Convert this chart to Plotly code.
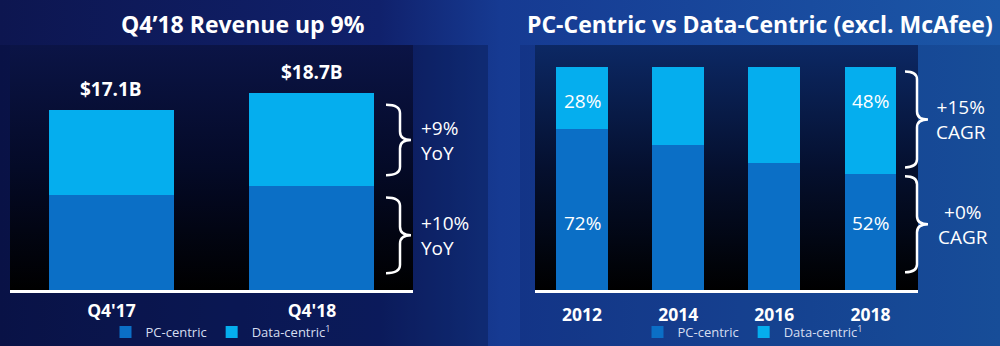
import urllib.parse
import plotly.graph_objects as go

# ---------------- data ----------------
quarters = ["Q4'17", "Q4'18"]
q_pc = [9.0, 9.9]          # $B PC-centric
q_dc = [8.1, 8.8]          # $B Data-centric
q_growth_labels = ["+10%<br>YoY", "+9%<br>YoY"]   # PC, Data

years = ["2012", "2014", "2016", "2018"]
y_pc = [72, 65, 57, 52]    # % share PC-centric
y_dc = [28, 35, 43, 48]    # % share Data-centric
y_label_years = ["2012", "2018"]
y_cagr_labels = ["+0%<br>CAGR", "+15%<br>CAGR"]   # PC, Data

series_names = ["PC-centric", "Data-centric<sup>1</sup>"]

# ---------------- style ----------------
W, H = 1000, 346
PC_COL = "#0b6fc6"
DC_COL = "#05aeee"
FONT = "Open Sans"
WHITE = "#ffffff"

q_total = [round(a + b, 1) for a, b in zip(q_pc, q_dc)]

# background (decorative) as an SVG image
svg = f"""<svg xmlns='http://www.w3.org/2000/svg' width='{W}' height='{H}' viewBox='0 0 {W} {H}' preserveAspectRatio='none'>
<defs>
<linearGradient id='bg' x1='0' y1='0' x2='1' y2='0'>
<stop offset='0' stop-color='#0d1650'/><stop offset='0.38' stop-color='#10216c'/>
<stop offset='0.5' stop-color='#163a92'/><stop offset='1' stop-color='#1b57a7'/></linearGradient>
<linearGradient id='p1' x1='0' y1='0' x2='0' y2='1'>
<stop offset='0' stop-color='#0b1446'/><stop offset='0.5' stop-color='#040a27'/><stop offset='1' stop-color='#000000'/></linearGradient>
<linearGradient id='p2' x1='0' y1='0' x2='0' y2='1'>
<stop offset='0' stop-color='#0c2864'/><stop offset='0.5' stop-color='#05102f'/><stop offset='1' stop-color='#000000'/></linearGradient>
</defs>
<rect x='0' y='0' width='{W}' height='{H}' fill='url(#bg)'/>
<rect x='0' y='45' width='488' height='{H-45}' fill='#000a30' fill-opacity='0.28'/>
<rect x='520' y='45' width='480' height='{H-45}' fill='#000a30' fill-opacity='0.12'/>
<rect x='10' y='45' width='403' height='245' fill='url(#p1)'/>
<rect x='535' y='45' width='383' height='245' fill='url(#p2)'/>
</svg>"""
bg_src = "data:image/svg+xml;charset=utf-8," + urllib.parse.quote(svg)

fig = go.Figure()

# left panel bars
for vals, name, col in [(q_pc, series_names[0], PC_COL), (q_dc, series_names[1], DC_COL)]:
    fig.add_trace(go.Bar(x=quarters, y=vals, name=name, marker=dict(color=col, line=dict(width=0)),
                         width=0.623, xaxis="x", yaxis="y", legend="legend", hoverinfo="skip"))
# right panel bars
for vals, name, col in [(y_pc, series_names[0], PC_COL), (y_dc, series_names[1], DC_COL)]:
    fig.add_trace(go.Bar(x=years, y=vals, name=name, marker=dict(color=col, line=dict(width=0)),
                         width=0.54, xaxis="x2", yaxis="y2", legend="legend2", hoverinfo="skip"))

annotations = []
# titles
annotations.append(dict(text="Q4’18 Revenue up 9%", x=0.243, y=1 - 24 / H, xref="paper", yref="paper",
                        xanchor="center", yanchor="middle", showarrow=False,
                        font=dict(family=FONT, size=23, color=WHITE, weight="bold")))
annotations.append(dict(text="PC-Centric vs Data-Centric (excl. McAfee)", x=0.760, y=1 - 24 / H,
                        xref="paper", yref="paper", xanchor="center", yanchor="middle", showarrow=False,
                        font=dict(family=FONT, size=23, color=WHITE, weight="bold")))
# totals above left bars
for i, t in enumerate(q_total):
    annotations.append(dict(text=f"${t:.1f}B", x=i, y=t, xref="x", yref="y", yanchor="bottom", yshift=6,
                            xanchor="center", showarrow=False,
                            font=dict(family=FONT, size=19, color=WHITE, weight="bold")))
# share labels in right bars
for yr in y_label_years:
    i = years.index(yr)
    annotations.append(dict(text=f"{y_dc[i]}%", x=i, y=85, xref="x2", yref="y2", showarrow=False,
                            xanchor="center", yanchor="middle",
                            font=dict(family=FONT, size=19, color=WHITE)))
    annotations.append(dict(text=f"{y_pc[i]}%", x=i, y=30, xref="x2", yref="y2", showarrow=False,
                            xanchor="center", yanchor="middle",
                            font=dict(family=FONT, size=19, color=WHITE)))

shapes = []


def brace(x0, xs, xt, ylo, yhi, r, yref):
    ym = (ylo + yhi) / 2
    p = (f"M{x0},{yhi} Q{xs},{yhi} {xs},{yhi - r} L{xs},{ym + r} Q{xs},{ym} {xt},{ym} "
         f"Q{xs},{ym} {xs},{ym - r} L{xs},{ylo + r} Q{xs},{ylo} {x0},{ylo}")
    return dict(type="path", path=p, xref="paper", yref=yref, line=dict(color=WHITE, width=2.5),
                fillcolor="rgba(0,0,0,0)")


# left braces (latest quarter)
lo_pc, hi_pc = 1.6, q_pc[-1] - 1.1
lo_dc, hi_dc = q_pc[-1] + 1.0, q_total[-1] - 1.1
shapes.append(brace(0.386, 0.400, 0.411, lo_dc, hi_dc, 0.8, "y"))
shapes.append(brace(0.386, 0.400, 0.411, lo_pc, hi_pc, 0.8, "y"))
annotations.append(dict(text=q_growth_labels[1], x=0.419, y=(lo_dc + hi_dc) / 2, xref="paper", yref="y",
                        xanchor="left", yanchor="middle", align="left", showarrow=False,
                        font=dict(family=FONT, size=19, color=WHITE)))
annotations.append(dict(text=q_growth_labels[0], x=0.419, y=(lo_pc + hi_pc) / 2, xref="paper", yref="y",
                        xanchor="left", yanchor="middle", align="left", showarrow=False,
                        font=dict(family=FONT, size=19, color=WHITE)))

# right braces (2018)
r_lo_pc, r_hi_pc = 8, y_pc[-1] - 1
r_lo_dc, r_hi_dc = y_pc[-1] + 3, 100 - 2
shapes.append(brace(0.905, 0.917, 0.928, r_lo_dc, r_hi_dc, 3.6, "y2"))
shapes.append(brace(0.905, 0.917, 0.928, r_lo_pc, r_hi_pc, 3.6, "y2"))
annotations.append(dict(text=y_cagr_labels[1], x=0.961, y=(r_lo_dc + r_hi_dc) / 2, xref="paper", yref="y2",
                        xanchor="center", yanchor="middle", showarrow=False,
                        font=dict(family=FONT, size=19, color=WHITE)))
annotations.append(dict(text=y_cagr_labels[0], x=0.963, y=(r_lo_pc + r_hi_pc) / 2, xref="paper", yref="y2",
                        xanchor="center", yanchor="middle", showarrow=False,
                        font=dict(family=FONT, size=19, color=WHITE)))

ydom = [(H - 290) / H, (H - 45) / H]
axis_common = dict(type="category", showgrid=False, zeroline=False, showline=True, linecolor=WHITE,
                   linewidth=2.5, ticks="", tickfont=dict(family=FONT, size=17.5, color=WHITE, weight="bold"),
                   fixedrange=True)
legend_common = dict(orientation="h", xanchor="center", yanchor="middle", bgcolor="rgba(0,0,0,0)",
                     traceorder="normal", font=dict(family=FONT, size=13, color="#d6def0"),
                     itemclick=False, itemdoubleclick=False)

fig.update_layout(
    width=W, height=H, margin=dict(l=0, r=0, t=0, b=0, autoexpand=False),
    paper_bgcolor="#0d1650", plot_bgcolor="rgba(0,0,0,0)",
    barmode="stack", bargap=0,
    xaxis=dict(domain=[0.010, 0.413], range=[-0.506, 1.504], anchor="y", ticklabelstandoff=3,
               **axis_common),
    yaxis=dict(domain=ydom, range=[0, 23.28], visible=False, fixedrange=True),
    xaxis2=dict(domain=[0.535, 0.918], range=[-0.489, 3.494], anchor="y2", ticklabelstandoff=7,
                **axis_common),
    yaxis2=dict(domain=ydom, range=[0, 109.9], visible=False, fixedrange=True),
    legend=dict(x=0.221, y=(H - 332) / H, **legend_common),
    legend2=dict(x=0.753, y=(H - 332) / H, **legend_common),
    annotations=annotations, shapes=shapes,
    images=[dict(source=bg_src, xref="paper", yref="paper", x=0, y=1, sizex=1, sizey=1,
                 sizing="stretch", layer="below", xanchor="left", yanchor="top")],
    showlegend=True,
)

fig.write_html("out.html", config={"displayModeBar": False})
